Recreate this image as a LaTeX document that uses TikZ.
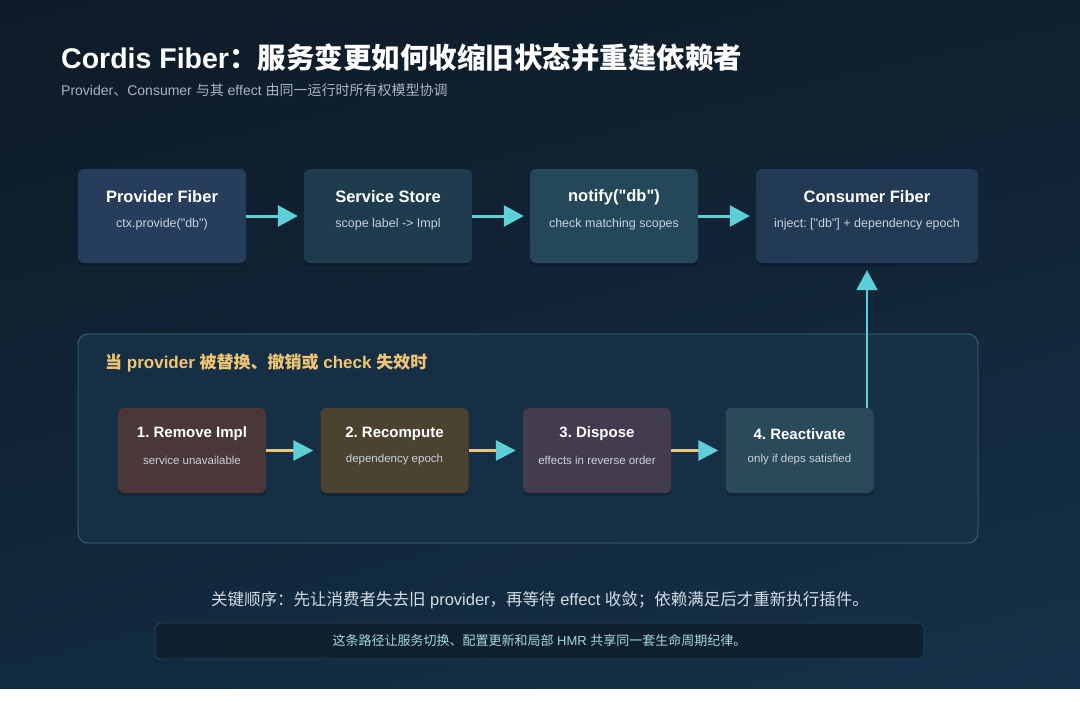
\documentclass[tikz,border=0pt]{standalone}
\usepackage{fontspec}
\setmainfont{Liberation Sans}[Ligatures=TeXOff]
\newfontfamily\cjk{Noto Sans CJK SC}
\usetikzlibrary{arrows.meta}
\usetikzlibrary{shadows}
\usetikzlibrary{shadings}
\frenchspacing
\definecolor{bgul}{HTML}{0E1A27}
\definecolor{bgur}{HTML}{10202F}
\definecolor{bgll}{HTML}{122A3E}
\definecolor{bglr}{HTML}{153149}
\definecolor{pfc}{HTML}{263E5C}
\definecolor{storec}{HTML}{1F3B4E}
\definecolor{notifyc}{HTML}{24475A}
\definecolor{consc}{HTML}{233A55}
\definecolor{panelc}{HTML}{172F45}
\definecolor{framec}{HTML}{3D6B7C}
\definecolor{onec}{HTML}{4A3739}
\definecolor{twoc}{HTML}{4B4330}
\definecolor{threec}{HTML}{433C4F}
\definecolor{fourc}{HTML}{2B4A59}
\definecolor{cyanc}{HTML}{5FCFD7}
\definecolor{goldc}{HTML}{E8C57A}
\definecolor{headc}{HTML}{F0C674}
\definecolor{greyc}{HTML}{A9B4C1}
\definecolor{boxtext}{HTML}{C8D2DC}
\definecolor{keytext}{HTML}{D4DCE4}
\definecolor{notec}{HTML}{0F2030}
\definecolor{noteframe}{HTML}{2B4254}
\definecolor{notetext}{HTML}{A6D8DD}
\tikzset{
	box/.style={rectangle, rounded corners=6pt, inner sep=0pt, minimum width=168pt, minimum height=94pt,
		drop shadow={shadow xshift=0pt, shadow yshift=-3pt, opacity=0.18, fill=black}},
	stepbox/.style={box, minimum width=148pt, minimum height=85pt},
	ttl/.style={text=white, font=\fontsize{16.5}{19}\selectfont\bfseries},
	sub/.style={text=boxtext, font=\fontsize{12.5}{15}\selectfont},
	stepttl/.style={text=white, font=\fontsize{15}{18}\selectfont\bfseries},
	stepsub/.style={text=boxtext, font=\fontsize{11.5}{14}\selectfont},
	flow/.style={draw=cyanc, line width=3pt, -{Triangle[length=20pt, width=21pt]}},
	stepflow/.style={draw=goldc, line width=3pt, -{Triangle[length=20pt, width=20pt, color=cyanc]}}
}

\begin{document}
\begin{tikzpicture}[x=1pt, y=-1pt]
	\useasboundingbox (0,0) rectangle (1080,702);
	\fill[white] (0,0) rectangle (1080,702);
	\shade[upper left=bgul, upper right=bgur, lower left=bgll, lower right=bglr] (0,0) rectangle (1080,688);

	\node[anchor=base west, inner sep=0pt, text=white, font=\fontsize{28.5}{32}\selectfont\bfseries] (title) at (61,68)
		{Cordis Fiber{\cjk ：服务变更如何收缩旧状态并重建依赖者}};
	\node[anchor=west, inner sep=0pt, text=greyc, font=\fontsize{14}{16}\selectfont] (subtitle) at (61,90)
		{Provider{\cjk 、}Consumer {\cjk 与其} effect {\cjk 由同一运行时所有权模型协调}};

	\node[box, fill=pfc] (pf) at (162,216) {};
	\node[box, fill=storec] (store) at (388,216) {};
	\node[box, fill=notifyc] (notify) at (614,216) {};
	\node[box, fill=consc, minimum width=222pt] (consumer) at (867,216) {};
	\node[ttl] (pft) at (162,197) {Provider Fiber};
	\node[sub] (pfs) at (162,224) {ctx.provide("db")};
	\node[ttl] (storet) at (388,197) {Service Store};
	\node[sub] (stores) at (388,224) {scope label -> Impl};
	\node[ttl] (notifyt) at (614,197) {notify("db")};
	\node[sub] (notifys) at (614,224) {check matching scopes};
	\node[ttl] (consumert) at (867,197) {Consumer Fiber};
	\node[sub] (consumers) at (867,224) {inject: ["db"] + dependency epoch};
	\draw[flow] (pf.east) -- ([xshift=-6pt]store.west);
	\draw[flow] (store.east) -- ([xshift=-6pt]notify.west);
	\draw[flow] (notify.east) -- ([xshift=-6pt]consumer.west);

	\node[rectangle, rounded corners=10pt, draw=framec, line width=0.8pt, fill=panelc, minimum width=900pt, minimum height=209pt] (panel) at (528,438.5) {};
	\node[anchor=west, inner sep=0pt, text=headc, font=\fontsize{17}{20}\selectfont\bfseries] (head) at (105,363)
		{{\cjk 当} provider {\cjk 被替换、撤销或} check {\cjk 失效时}};

	\node[stepbox, fill=onec] (s1) at (192,450.5) {};
	\node[stepbox, fill=twoc] (s2) at (394.5,450.5) {};
	\node[stepbox, fill=threec] (s3) at (597,450.5) {};
	\node[stepbox, fill=fourc] (s4) at (799.5,450.5) {};
	\node[stepttl] (s1t) at (192,434) {1. Remove Impl};
	\node[stepsub] (s1s) at (192,460) {service unavailable};
	\node[stepttl] (s2t) at (394.5,434) {2. Recompute};
	\node[stepsub] (s2s) at (394.5,460) {dependency epoch};
	\node[stepttl] (s3t) at (597,434) {3. Dispose};
	\node[stepsub] (s3s) at (597,460) {effects in reverse order};
	\node[stepttl] (s4t) at (799.5,434) {4. Reactivate};
	\node[stepsub] (s4s) at (799.5,460) {only if deps satisfied};
	\draw[stepflow] (s1.east) -- ([xshift=-7pt]s2.west);
	\draw[stepflow] (s2.east) -- ([xshift=-7pt]s3.west);
	\draw[stepflow] (s3.east) -- ([xshift=-7pt]s4.west);
	\draw[flow, line width=2.2pt] (s4.north -| consumer.south) -- ([yshift=-7pt]consumer.south);

	\node[text=keytext, font=\fontsize{16.5}{19}\selectfont] (key) at (540,600)
		{{\cjk 关键顺序：先让消费者失去旧} provider{\cjk ，再等待} effect {\cjk 收敛；依赖满足后才重新执行插件。}};
	\node[rectangle, rounded corners=6pt, draw=noteframe, line width=0.8pt, fill=notec, minimum width=769pt, minimum height=36pt,
		text=notetext, font=\fontsize{13}{15}\selectfont] (note) at (539.5,641)
		{{\cjk 这条路径让服务切换、配置更新和局部} HMR {\cjk 共享同一套生命周期纪律。}};
\end{tikzpicture}
\end{document}
